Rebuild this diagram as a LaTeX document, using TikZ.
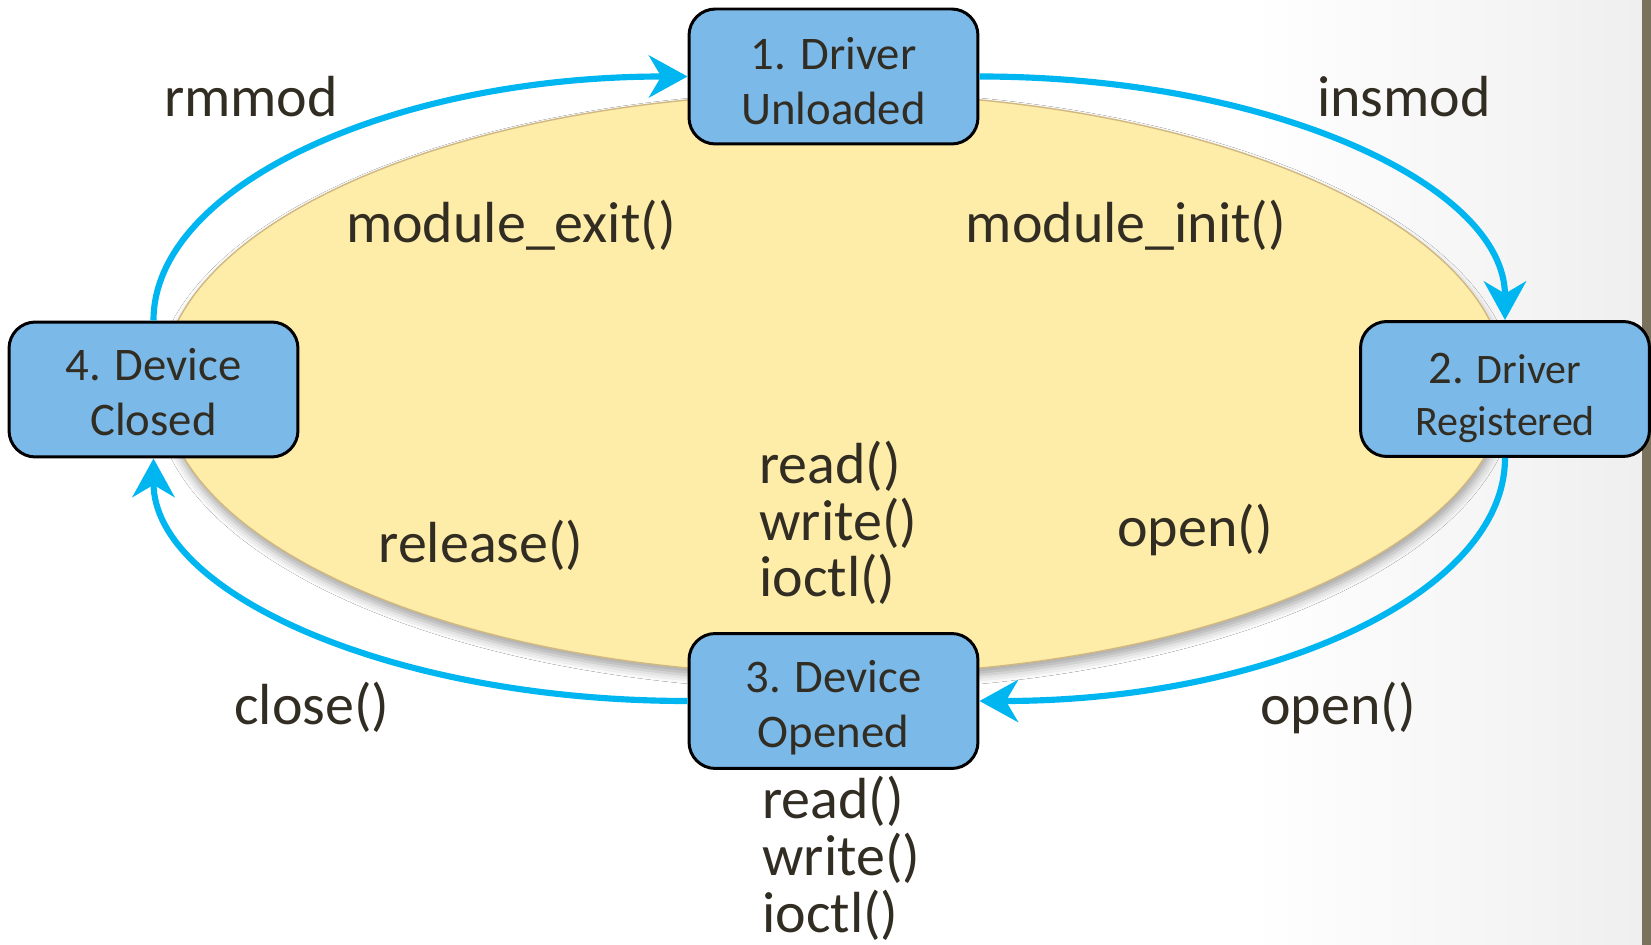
\documentclass[tikz,border=0pt]{standalone}
\usepackage{fontspec}
\setmainfont{Carlito}
\usetikzlibrary{arrows.meta,shapes.geometric,shadows.blur}
\definecolor{ink}{RGB}{50,45,35}
\definecolor{boxblue}{RGB}{123,185,232}
\definecolor{flow}{RGB}{0,182,240}
\definecolor{ovalfill}{RGB}{254,236,169}
\definecolor{ovalrim}{RGB}{208,184,128}
\definecolor{edgebar}{RGB}{122,114,92}
\definecolor{sidegray}{RGB}{239,239,239}

\begin{document}
\begin{tikzpicture}[x=0.02cm,y=-0.02cm,
  state/.style={draw=black, line width=1.7pt, fill=boxblue, rounded corners=15pt,
    minimum width=5.78cm, minimum height=2.7cm, align=center, text=ink,
    font=\fontsize{26.6}{31.3}\selectfont, inner sep=0pt},
  flowline/.style={draw=flow, line width=3.5pt, -{Stealth[length=22pt,width=24pt,inset=7pt]}},
  lbl/.style={text=ink, font=\fontsize{33}{32.3}\selectfont, inner sep=0pt, anchor=base},
  calls/.style={lbl, align=left, anchor=base west}]
\useasboundingbox (0,0) rectangle (1651,945);
% background with a soft grey fade on the right and a dark edge strip
\fill[white] (0,0) rectangle (1651,945);
\shade[left color=white, right color=sidegray] (1250,0) rectangle (1642,945);
\fill[edgebar] (1642,0) rectangle (1651,945);

% central oval
\node[ellipse, minimum width=26.88cm, minimum height=11.64cm, fill=ovalfill,
  draw=ovalrim, line width=0.8pt,
  blur shadow={shadow xshift=0.5pt, shadow yshift=-4pt, shadow blur radius=5pt, shadow opacity=35}]
  (oval) at (834,384) {};

% states (the struts push each two-line caption slightly down)
\node[state] (b1) at (833.5,76.5) {\rule{0pt}{23pt}1. Driver\\Unloaded};
\node[state, font=\fontsize{23.9}{29.5}\selectfont] (b2) at (1505,389)
  {\rule{0pt}{27pt}{\fontsize{26.6}{29.5}\selectfont 2.} Driver\\Registered};
\node[state] (b3) at (833.5,701) {\rule{0pt}{26pt}3. Device\\Opened};
\node[state] (b4) at (153.5,389.5) {\rule{0pt}{21pt}4. Device\\Closed};

% transitions
\draw[flowline] (b1.east) .. controls +(291,0) and +(0,-135) .. (b2.north);
\draw[flowline] (b2.south) .. controls +(0,135) and +(291,0) .. (b3.east);
\draw[flowline] (b3.west) .. controls +(-295,0) and +(0,135) .. (b4.south);
\draw[flowline] (b4.north) .. controls +(0,-135) and +(-295,0) .. (b1.west);

% labels
\node[lbl] (rm) at (251,117) {rmmod};
\node[lbl] (ins) at (1404,117) {insmod};
\node[lbl] (mexit) at (511,243) {module\_exit()};
\node[lbl] (minit) at (1126,243) {module\_init()};
\node[lbl] (rel) at (481,563) {release()};
\node[lbl] (opin) at (1195,547) {open()};
\node[lbl] (opout) at (1338,725) {open()};
\node[lbl] (cls) at (312,725) {close()};
\node[calls] (rwi1) at (759,597) {read()\\write()\\ioctl()};
\node[calls] (rwi2) at (762,932) {read()\\write()\\ioctl()};
\end{tikzpicture}
\end{document}
